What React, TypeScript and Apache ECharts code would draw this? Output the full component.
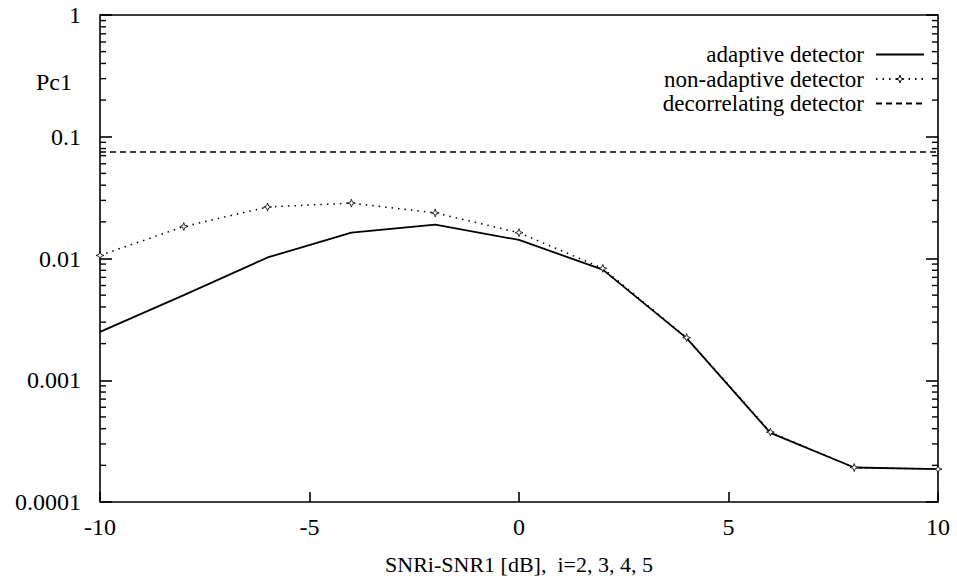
import React, { useEffect, useRef } from "react";
import * as echarts from "echarts";

const xValues = [-10, -8, -6, -4, -2, 0, 2, 4, 6, 8, 10];
const adaptive = [0.0025, 0.005, 0.0102, 0.0163, 0.019, 0.0142, 0.0081, 0.00222, 0.00037, 0.000192, 0.000186];
const nonAdaptive = [0.0106, 0.0183, 0.0265, 0.0285, 0.0237, 0.0163, 0.0083, 0.00224, 0.000375, 0.000192, 0.000186];
const decorrX = [-10, 10];
const decorrelating = [0.075, 0.075];
const seriesNames = ["adaptive detector", "non-adaptive detector", "decorrelating detector"];
const yTickLabels: Record<string, string> = { "-4": "0.0001", "-3": "0.001", "-2": "0.01", "-1": "0.1", "0": "1" };
const xTickLabels: Record<string, string> = { "-10": "-10", "-5": "-5", "0": "0", "5": "5", "10": "10" };
const minorMultipliers = [2, 3, 4, 5, 6, 7, 8, 9];
const minorDecades = [-4, -3, -2, -1];
const yAxisName = "Pc1";
const xAxisName = "SNRi-SNR1 [dB],  i=2, 3, 4, 5";

const FONT = "'Liberation Serif', 'DejaVu Serif', serif";
const STAR = "path://M0,-5L1.3,-1.3L5,0L1.3,1.3L0,5L-1.3,1.3L-5,0L-1.3,-1.3Z";

export default function App() {
  const ref = useRef<HTMLDivElement>(null);
  useEffect(() => {
    if (!ref.current) return;
    const chart = echarts.init(ref.current, null, { renderer: "svg" });
    const minorVals: number[][] = [];
    minorDecades.forEach((d) => minorMultipliers.forEach((m) => minorVals.push([-10, m * Math.pow(10, d)])));
    const tickStyle = { color: "#000", width: 1.6 };
    const option: any = {
      animation: false,
      backgroundColor: "#fff",
      textStyle: { fontFamily: FONT, color: "#000" },
      grid: { left: 100, right: 19, top: 15, bottom: 85, show: true, borderColor: "#000", borderWidth: 1.6, backgroundColor: "transparent" },
      legend: {
        orient: "vertical",
        right: 27,
        top: 38,
        align: "right",
        itemWidth: 48,
        itemHeight: 10,
        itemGap: 1.5,
        data: [
          { name: seriesNames[0], itemStyle: { opacity: 0 } },
          { name: seriesNames[1], itemStyle: { color: "#fff", borderColor: "#000", borderWidth: 0.9 } },
          { name: seriesNames[2], itemStyle: { opacity: 0 } },
        ],
        textStyle: { fontFamily: FONT, fontSize: 23, color: "#000", padding: [0, 7, 0, 0] },
        inactiveColor: "#000",
      },
      xAxis: {
        type: "value",
        min: -10,
        max: 10,
        interval: 5,
        name: xAxisName,
        nameLocation: "middle",
        nameGap: 51,
        nameTextStyle: { fontFamily: FONT, fontSize: 22, color: "#000" },
        axisLine: { show: false, onZero: false },
        axisTick: { show: true, inside: true, length: 10, lineStyle: tickStyle },
        axisLabel: { fontFamily: FONT, fontSize: 24, color: "#000", margin: 13, formatter: (v: number) => xTickLabels[String(v)] ?? String(v) },
        splitLine: { show: false },
      },
      yAxis: [
        {
          type: "log",
          min: 0.0001,
          max: 1,
          logBase: 10,
          position: "left",
          axisLine: { show: false, onZero: false },
          axisTick: { show: true, inside: true, length: 12, lineStyle: tickStyle },
          axisLabel: {
            fontFamily: FONT,
            fontSize: 24,
            color: "#000",
            margin: 19,
            formatter: (v: number) => yTickLabels[String(Math.round(Math.log10(v)))] ?? String(v),
          },
          splitLine: { show: false },
        },
        {
          type: "log",
          min: 0.0001,
          max: 1,
          logBase: 10,
          position: "right",
          axisLine: { show: false, onZero: false },
          axisTick: { show: true, inside: true, length: 12, lineStyle: tickStyle },
          axisLabel: { show: false },
          splitLine: { show: false },
        },
      ],
      graphic: [
        { type: "text", left: 36, top: 70, style: { text: yAxisName, font: `24px ${FONT}`, fill: "#000" } },
      ],
      series: [
        {
          name: seriesNames[0],
          type: "line",
          data: xValues.map((x, i) => [x, adaptive[i]]),
          showSymbol: false,
          symbol: "none",
          lineStyle: { color: "#000", width: 1.8, type: "solid" },
          itemStyle: { color: "#000" },
        },
        {
          name: seriesNames[1],
          type: "line",
          data: xValues.map((x, i) => [x, nonAdaptive[i]]),
          symbol: STAR,
          symbolSize: 8,
          lineStyle: { color: "#000", width: 1.5, type: [1.5, 5] },
          itemStyle: { color: "#fff", borderColor: "#000", borderWidth: 0.8 },
        },
        {
          name: seriesNames[2],
          type: "line",
          data: decorrX.map((x, i) => [x, decorrelating[i]]),
          symbol: "none",
          lineStyle: { color: "#000", width: 1.5, type: [6, 4] },
          itemStyle: { color: "#000" },
        },
        {
          name: "minorTicks",
          type: "custom",
          silent: true,
          data: minorVals,
          encode: { x: 0, y: 1 },
          renderItem: (params: any, api: any) => {
            const v = api.value(1);
            const l = api.coord([-10, v]);
            const r = api.coord([10, v]);
            return {
              type: "group",
              children: [
                { type: "line", shape: { x1: l[0], y1: l[1], x2: l[0] + 6, y2: l[1] }, style: { stroke: "#000", lineWidth: 1.4 } },
                { type: "line", shape: { x1: r[0] - 6, y1: r[1], x2: r[0], y2: r[1] }, style: { stroke: "#000", lineWidth: 1.4 } },
              ],
            };
          },
        },
      ],
    };
    chart.setOption(option);
    return () => chart.dispose();
  }, []);
  return <div ref={ref} style={{ position: "fixed", left: 0, top: 0, width: 957, height: 587 }} />;
}
